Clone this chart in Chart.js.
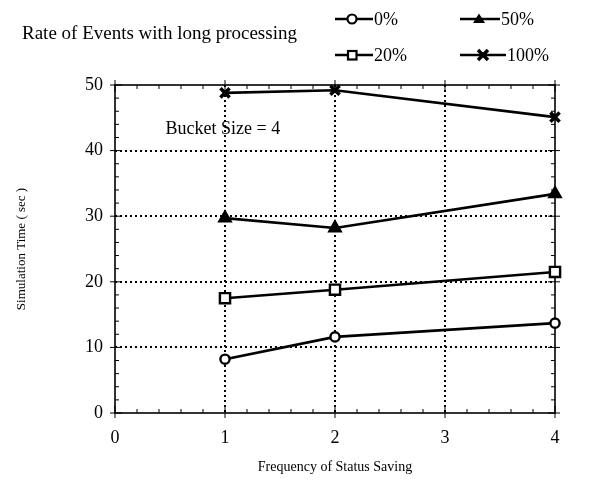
<!DOCTYPE html>
<html>
<head>
<meta charset="utf-8">
<script src="https://cdn.jsdelivr.net/npm/chart.js@4/dist/chart.umd.min.js"></script>
<style>
  body { margin: 0; background: #fff; font-family: "Liberation Serif", serif; }
  #wrap { position: relative; width: 597px; height: 480px; }
  #legendTitle { position: absolute; left: 22px; top: 22px; font-size: 19px; color: #000; }
  .item { position: absolute; font-size: 18px; height: 22px; line-height: 22px; display: flex; align-items: center; }
  .item svg { margin-right: 1px; }
  canvas { position: absolute; left: 0; top: 0; }
</style>
</head>
<body>
<div id="wrap">
  <canvas id="chart" width="597" height="480"></canvas>
  <div id="legendTitle">Rate of Events with long processing</div>
  <div id="legend"></div>
</div>
<script>
const freq = [1, 2, 4];
const rate0 = [8.2, 11.6, 13.7];
const rate20 = [17.5, 18.8, 21.5];
const rate50 = [29.7, 28.2, 33.4];
const rate100 = [48.8, 49.2, 45.1];
const seriesNames = ["0%", "20%", "50%", "100%"];
const yTicks = [0, 10, 20, 30, 40, 50];
const xTicks = [0, 1, 2, 3, 4];

function pts(vals) {
  return freq.map((f, i) => ({ x: f, y: vals[i] }));
}

function ds(label, vals, style, fill, r) {
  return {
    label,
    data: pts(vals),
    clip: false,
    borderColor: "#000",
    borderWidth: 2.6,
    pointStyle: style,
    pointRadius: r,
    pointBorderWidth: style === "crossRot" ? 3.5 : 2.4,
    pointBackgroundColor: fill,
    pointBorderColor: "#000",
    tension: 0
  };
}

// box, minor ticks and the text note inside the plot
const frame = {
  id: "frame",
  beforeDatasetsDraw(chart) {
    const { ctx, chartArea: a, scales: { x, y } } = chart;
    ctx.save();
    ctx.strokeStyle = "#000";
    ctx.lineWidth = 1.6;
    ctx.strokeRect(a.left, a.top, a.right - a.left, a.bottom - a.top);
    ctx.lineWidth = 1;
    for (let v = 0; v <= 50; v += 2) {
      const py = y.getPixelForValue(v);
      const len = v % 10 === 0 ? 7 : 4;
      ctx.beginPath();
      ctx.moveTo(a.left - (v % 10 === 0 ? 5 : 0), py); ctx.lineTo(a.left + len, py);
      ctx.moveTo(a.right - len, py); ctx.lineTo(a.right + (v % 10 === 0 ? 5 : 0), py);
      ctx.stroke();
    }
    for (let v = 0; v <= 4.001; v += 0.2) {
      const px = x.getPixelForValue(v);
      const major = Math.abs(v - Math.round(v)) < 0.01;
      const len = major ? 7 : 4;
      ctx.beginPath();
      ctx.moveTo(px, a.bottom + (major ? 5 : 0)); ctx.lineTo(px, a.bottom - len);
      ctx.moveTo(px, a.top - (major ? 5 : 0)); ctx.lineTo(px, a.top + len);
      ctx.stroke();
    }
    ctx.fillStyle = "#000";
    ctx.font = "18px 'Liberation Serif'";
    ctx.textBaseline = "middle";
    ctx.fillText("Bucket Size = 4", x.getPixelForValue(0.46), y.getPixelForValue(43.2));
    ctx.restore();
  }
};

new Chart(document.getElementById("chart"), {
  type: "line",
  data: {
    datasets: [
      ds(seriesNames[0], rate0, "circle", "#fff", 4.6),
      ds(seriesNames[1], rate20, "rect", "#fff", 7.2),
      ds(seriesNames[2], rate50, "triangle", "#000", 6.5),
      ds(seriesNames[3], rate100, "crossRot", "#000", 6.5)
    ]
  },
  options: {
    responsive: false,
    animation: false,
    layout: { padding: { top: 85, right: 42, left: 0, bottom: 0 } },
    plugins: { legend: { display: false }, tooltip: { enabled: false } },
    scales: {
      x: {
        type: "linear", min: 0, max: 4,
        afterBuildTicks: s => { s.ticks = xTicks.map(v => ({ value: v })); },
        afterFit: s => { s.height = 67; },
        grid: {
          color: c => (c.tick && (c.tick.value === 0 || c.tick.value === 4)) ? "rgba(0,0,0,0)" : "#000",
          lineWidth: 2, drawTicks: false
        },
        border: { display: false, dash: [2, 3] },
        ticks: { color: "#000", padding: 14, font: { family: "Liberation Serif", size: 18 } },
        title: { display: true, text: "Frequency of Status Saving", color: "#000", padding: { top: 6 },
          font: { family: "Liberation Serif", size: 14 } }
      },
      y: {
        min: 0, max: 50,
        afterBuildTicks: s => { s.ticks = yTicks.map(v => ({ value: v })); },
        afterFit: s => { s.width = 115; },
        grid: {
          color: c => (c.tick && (c.tick.value === 0 || c.tick.value === 50)) ? "rgba(0,0,0,0)" : "#000",
          lineWidth: 2, drawTicks: false
        },
        border: { display: false, dash: [2, 3] },
        ticks: { color: "#000", padding: 12, font: { family: "Liberation Serif", size: 18 } },
        title: { display: true, text: "Simulation Time ( sec )", color: "#000", padding: { top: 14, bottom: 10 },
          font: { family: "Liberation Serif", size: 13 } }
      }
    }
  },
  plugins: [frame]
});

// legend, 2x2 like the original
const legendItems = [
  { name: seriesNames[0], left: 335, top: 8, mark: '<circle cx="17" cy="11" r="4.5" fill="#fff" stroke="#000" stroke-width="2.2"/>' },
  { name: seriesNames[2], left: 460, top: 8, mark: '<polygon points="19,5.5 25,15 13,15" fill="#000"/>' },
  { name: seriesNames[1], left: 335, top: 44, mark: '<rect x="13" y="7" width="8.5" height="8.5" fill="#fff" stroke="#000" stroke-width="2.2"/>' },
  { name: seriesNames[3], left: 460, top: 44, mark: '<path d="M18 6 L28 16 M28 6 L18 16" stroke="#000" stroke-width="3.5"/>' }
];
const legend = document.getElementById("legend");
for (const it of legendItems) {
  const w = it.name === "100%" ? 46 : (it.name === "50%" ? 40 : 38);
  const d = document.createElement("div");
  d.className = "item";
  d.style.left = it.left + "px";
  d.style.top = it.top + "px";
  d.innerHTML = '<svg width="' + w + '" height="22"><line x1="0" y1="11" x2="' + w + '" y2="11" stroke="#000" stroke-width="2.6"/>' + it.mark + '</svg><span>' + it.name + '</span>';
  legend.appendChild(d);
}
</script>
</body>
</html>
